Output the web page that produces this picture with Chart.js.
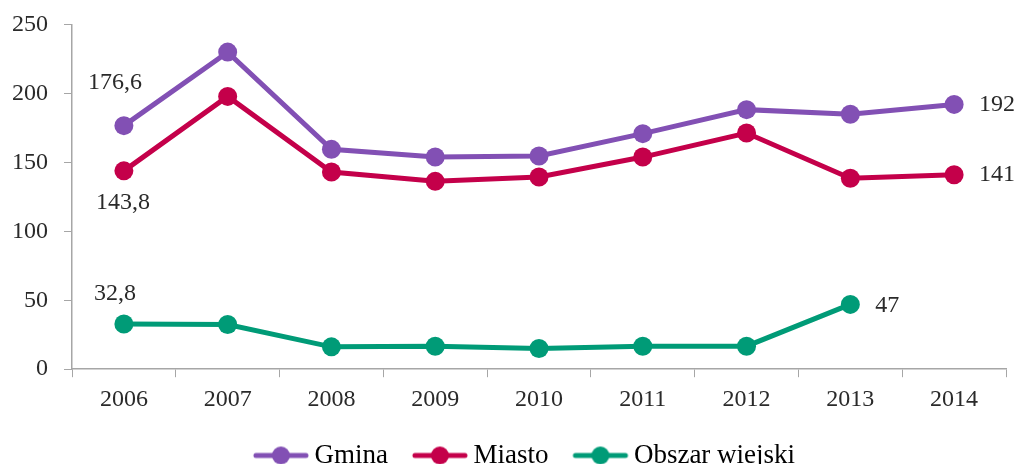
<!DOCTYPE html>
<html>
<head>
<meta charset="utf-8">
<script src="https://cdn.jsdelivr.net/npm/chart.js@4"></script>
<style>
  html, body { margin: 0; padding: 0; background: #fff; overflow: hidden; }
  #wrap { width: 1016px; height: 479px; }
</style>
</head>
<body>
<div id="wrap"><canvas id="chart0"></canvas></div>
<script>
"use strict"

// == data
const years = ["2006", "2007", "2008", "2009", "2010", "2011", "2012", "2013", "2014"]
const gmina = [176.6, 229.9, 159.4, 153.8, 154.6, 170.8, 188.2, 184.8, 192]
const miasto = [143.8, 197.8, 143, 136.2, 139.4, 153.8, 171.2, 138.4, 141]
const obszar = [32.8, 32.4, 16.2, 16.7, 15, 16.7, 16.7, 47, null]
const yTicks = [0, 50, 100, 150, 200, 250]

// labels written next to some points: [dataset, index, text, dx, dy]
const pointLabels = [
    [0, 0, "176,6", -9, -43],
    [0, 8, "192", 43, 0],
    [1, 0, "143,8", -1, 32],
    [1, 8, "141", 43, 0],
    [2, 0, "32,8", -9, -30],
    [2, 7, "47", 37, 1],
]

const colors = ["#8250b4", "#c4004a", "#009b77"]
const FONT = "'Liberation Serif', 'Times New Roman', serif"
const TEXT = "#2a2a2a"

// little line-with-dot picture for the legend
// the picture is wider than the line: empty room on the left pushes the
// line close to its text, since chart.js centres the picture in the box
function legendIcon(color) {
    let c = document.createElement("canvas")
    c.width = 70
    c.height = 20
    let ctx = c.getContext("2d")
    ctx.strokeStyle = color
    ctx.lineWidth = 5
    ctx.lineCap = "round"
    ctx.beginPath()
    ctx.moveTo(16, 10)
    ctx.lineTo(66, 10)
    ctx.stroke()
    ctx.fillStyle = color
    ctx.beginPath()
    ctx.arc(41, 10, 9, 0, Math.PI * 2)
    ctx.fill()
    return c
}

const labelPlugin = {
    id: "pointLabels",
    afterDatasetsDraw(chart) {
        let ctx = chart.ctx
        ctx.save()
        ctx.font = "24px " + FONT
        ctx.fillStyle = TEXT
        ctx.textAlign = "center"
        ctx.textBaseline = "middle"
        for (let i = 0; i < pointLabels.length; i++) {
            let l = pointLabels[i]
            let pt = chart.getDatasetMeta(l[0]).data[l[1]]
            ctx.fillText(l[2], pt.x + l[3], pt.y + l[4])
        }
        ctx.restore()
    }
}

// the legend row sits a bit right of centre in the original
const legendShift = {
    id: "legendShift",
    afterLayout(chart) {
        chart.legend.left += 19
        chart.legend.right += 19
    }
}

function makeSet(label, data, color) {
    return {
        label: label,
        data: data,
        borderColor: color,
        backgroundColor: color,
        borderWidth: 5,
        pointStyle: "circle",
        pointRadius: 9.5,
        pointHoverRadius: 9.5,
        pointBorderWidth: 0,
        tension: 0,
        spanGaps: false,
    }
}

let chart0 = document.getElementById("chart0").getContext("2d")
new Chart(chart0, {
    type: "line",
    data: {
        labels: years,
        datasets: [
            makeSet("Gmina", gmina, colors[0]),
            makeSet("Miasto", miasto, colors[1]),
            makeSet("Obszar wiejski", obszar, colors[2]),
        ]
    },
    options: {
        responsive: true,
        maintainAspectRatio: false,
        animation: false,
        layout: { padding: { top: 0, right: 10, left: 0, bottom: 0 } },
        plugins: {
            tooltip: { enabled: false },
            legend: {
                position: "bottom",
                labels: {
                    usePointStyle: true,
                    pointStyleWidth: 52,
                    boxHeight: 20,
                    color: TEXT,
                    font: { family: FONT, size: 27 },
                    padding: 20,
                    generateLabels(chart) {
                        return chart.data.datasets.map((ds, i) => ({
                            text: ds.label,
                            pointStyle: legendIcon(colors[i]),
                            fillStyle: colors[i],
                            strokeStyle: colors[i],
                            lineWidth: 0,
                            hidden: false,
                            datasetIndex: i,
                        }))
                    }
                }
            }
        },
        scales: {
            x: {
                offset: true,
                grid: { display: true, drawOnChartArea: false, offset: true, tickLength: 8, color: "#a6a6a6" },
                border: { color: "#a6a6a6", width: 1.5 },
                ticks: { color: TEXT, font: { family: FONT, size: 24 }, padding: 8, maxRotation: 0 }
            },
            y: {
                min: 0,
                max: 250,
                afterBuildTicks(axis) { axis.ticks = yTicks.map(v => ({ value: v })) },
                afterFit(axis) { axis.width = 72 },
                grid: { display: true, drawOnChartArea: false, tickLength: 8, color: "#a6a6a6" },
                border: { color: "#a6a6a6", width: 1.5 },
                ticks: { color: TEXT, font: { family: FONT, size: 24, lineHeight: 0.7 }, padding: 16 }
            }
        }
    },
    plugins: [labelPlugin, legendShift]
})
</script>
</body>
</html>
